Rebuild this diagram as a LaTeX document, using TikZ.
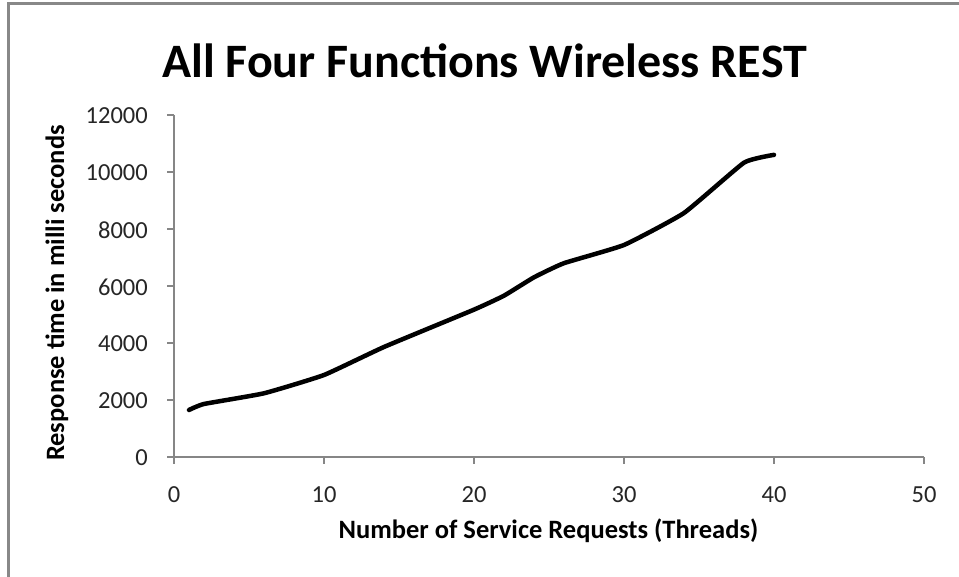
\documentclass[tikz,border=0pt]{standalone}
\usepackage{fontspec}
\setmainfont{Carlito}
\definecolor{axisgrey}{HTML}{868686}
\definecolor{framegrey}{HTML}{888888}
\begin{document}
\begin{tikzpicture}[x=1pt,y=-1pt,
  ticklab/.style={font=\fontsize{24.5}{24.5}\selectfont, text=black!85, inner sep=0pt},
  axislab/.style={font=\fontsize{26.5}{26.5}\selectfont\bfseries, inner sep=0pt},
  axisline/.style={draw=axisgrey, line width=1.1pt},
  curve/.style={line width=4.5pt, line join=round, line cap=round}]
\useasboundingbox (0,0) rectangle (959,577);
\fill[white] (0,0) rectangle (959,577);
% frame
\draw[framegrey, line width=3pt] (8,577) -- (8,3.5) -- (959,3.5);
% title
\node[font=\fontsize{48}{48}\selectfont\bfseries, inner sep=0pt] (title) at (484.5,61) {All Four Functions Wireless REST};
% axes
\coordinate (O) at (174,457);
\coordinate (Xend) at (924,457);
\coordinate (Yend) at (174,115);
\draw[axisline] (Yend) -- (O) -- (Xend);
% y ticks
\foreach \v [count=\i] in {0,2000,4000,6000,8000,10000,12000}{
  \pgfmathsetmacro{\yy}{457-\v/12000*342}
  \draw[axisline] (167,\yy) -- (174,\yy);
  \node[ticklab, anchor=east] (yl\i) at (148,\yy+1) {\v};
}
% x ticks
\foreach \u [count=\i] in {0,10,20,30,40,50}{
  \pgfmathsetmacro{\xx}{174+15*\u}
  \draw[axisline] (\xx,457) -- (\xx,464);
  \node[ticklab] (xl\i) at (\xx,495) {\u};
}
% axis labels
\node[axislab] (xlabel) at (548.5,531) {Number of Service Requests (Threads)};
\node[axislab, rotate=90] (ylabel) at (57,293) {Response time in milli seconds};
% data curve
\begin{scope}[shift={(174,457)}, x=15pt, y=0.0285pt]
\draw[curve] plot[smooth, tension=0.25] coordinates {
 (1,1650) (2,1860) (6,2235) (10,2877) (14,3860) (20,5170) (22,5660) (24,6304)
 (26,6800) (30,7438) (34,8561) (38,10326) (40,10600)};
\end{scope}
\end{tikzpicture}
\end{document}
